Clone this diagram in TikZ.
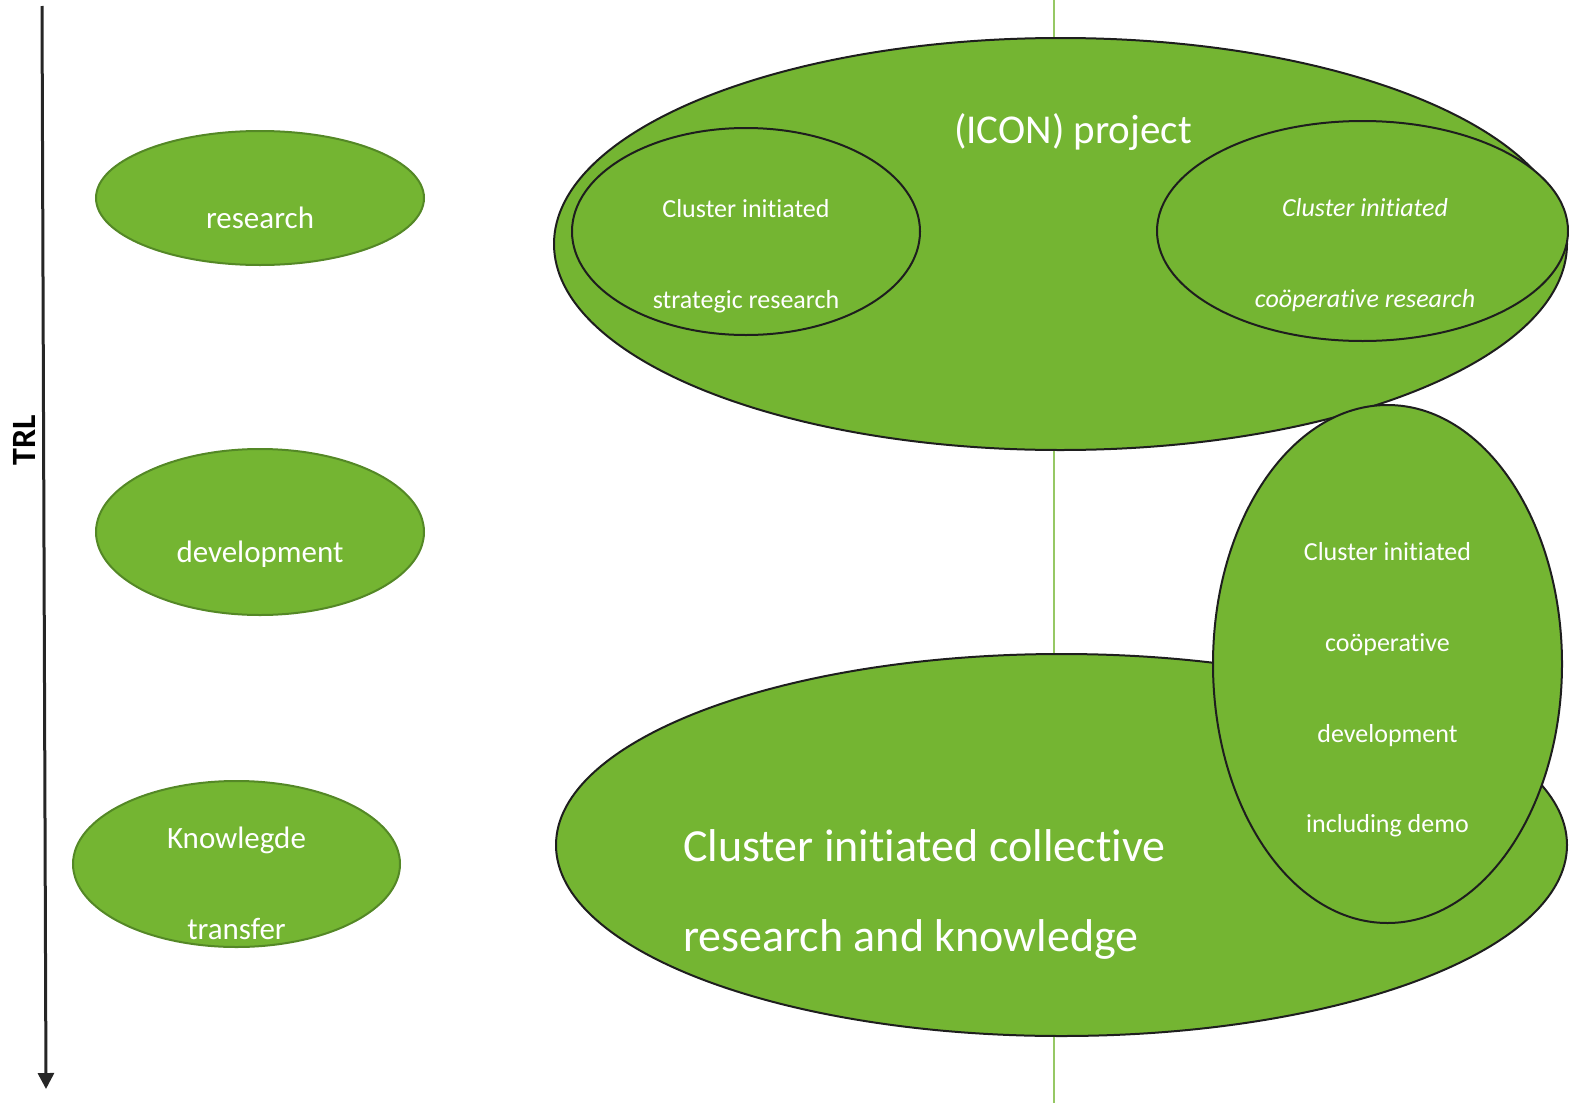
\documentclass[tikz,border=0pt]{standalone}
\usepackage{fontspec}
\setmainfont{Carlito}[Ligatures={NoCommon}]
\usetikzlibrary{shapes.geometric,arrows.meta}
\definecolor{leaf}{RGB}{116,181,50}
\definecolor{leafdark}{RGB}{84,136,38}
\definecolor{axisgray}{RGB}{38,38,38}
\definecolor{divider}{RGB}{150,200,100}
\definecolor{rim}{RGB}{30,30,30}
\tikzset{
  blob/.style={ellipse, fill=leaf, inner sep=0pt},
  phase/.style={blob, draw=leafdark, line width=2pt},
  scheme/.style={blob, draw=rim, line width=2pt},
  lbl/.style={text=white, anchor=base, inner sep=0pt},
}
\begin{document}
\begin{tikzpicture}[x=1pt,y=-1pt]
\useasboundingbox (0,0) rectangle (1569,1103);

% divider line behind everything
\coordinate (divtop) at (1054,0);
\coordinate (divbot) at (1054,1103);
\draw[divider, line width=2pt] (divtop) -- (divbot);

% TRL axis
\coordinate (axtop) at (42,6);
\coordinate (axbot) at (46,1089);
\draw[axisgray, line width=3pt, -{Triangle[length=16pt,width=16pt]}] (axtop) -- (axbot);
\node[rotate=90, font=\bfseries\fontsize{34}{40}\selectfont, text=black, inner sep=0pt] (trl) at (24,440) {TRL};

% phase ellipses on the left
\node[phase, minimum width=328pt, minimum height=134pt] (research) at (260,198) {};
\node[lbl, font=\fontsize{31}{36}\selectfont] (researchT) at (260,228) {research};
\node[phase, minimum width=328pt, minimum height=166pt] (development) at (260,532) {};
\node[lbl, font=\fontsize{31}{36}\selectfont] (developmentT) at (260,562) {development};
\node[phase, minimum width=327pt, minimum height=166pt] (transfer) at (236.5,864) {};
\node[lbl, font=\fontsize{31}{36}\selectfont] (transferA) at (236.5,848) {Knowlegde};
\node[lbl, font=\fontsize{31}{36}\selectfont] (transferB) at (236.5,939) {transfer};

% ICON project with its two research schemes
\node[scheme, minimum width=1013pt, minimum height=412pt] (icon) at (1060.5,244) {};
\node[lbl, font=\fontsize{41}{48}\selectfont] (iconT) at (1073,143) {(ICON) project};
\node[scheme, minimum width=348pt, minimum height=207pt] (strategic) at (746,231.5) {};
\node[lbl, font=\fontsize{26}{30}\selectfont] (strategicA) at (746,217) {Cluster initiated};
\node[lbl, font=\fontsize{26}{30}\selectfont] (strategicB) at (746,308) {strategic research};
\node[scheme, minimum width=411pt, minimum height=220pt] (coop) at (1362.5,231) {};
\node[lbl, font=\itshape\fontsize{26}{30}\selectfont] (coopA) at (1365,216) {Cluster initiated};
\node[lbl, font=\itshape\fontsize{26}{30}\selectfont] (coopB) at (1365,307) {coöperative research};

% collective research with the development scheme
\node[scheme, minimum width=1011pt, minimum height=382pt] (collective) at (1061.5,845) {};
\node[lbl, anchor=base west, font=\fontsize{46}{54}\selectfont] (collectiveA) at (683,861) {Cluster initiated collective};
\node[lbl, anchor=base west, font=\fontsize{46}{54}\selectfont] (collectiveB) at (683,951) {research and knowledge};
\node[scheme, minimum width=349pt, minimum height=518pt] (coopdev) at (1387.5,664) {};
\node[lbl, font=\fontsize{26}{30}\selectfont] (coopdevA) at (1387.5,560) {Cluster initiated};
\node[lbl, font=\fontsize{26}{30}\selectfont] (coopdevB) at (1387.5,651) {coöperative};
\node[lbl, font=\fontsize{26}{30}\selectfont] (coopdevC) at (1387.5,742) {development};
\node[lbl, font=\fontsize{26}{30}\selectfont] (coopdevD) at (1387.5,832) {including demo};
\end{tikzpicture}
\end{document}
